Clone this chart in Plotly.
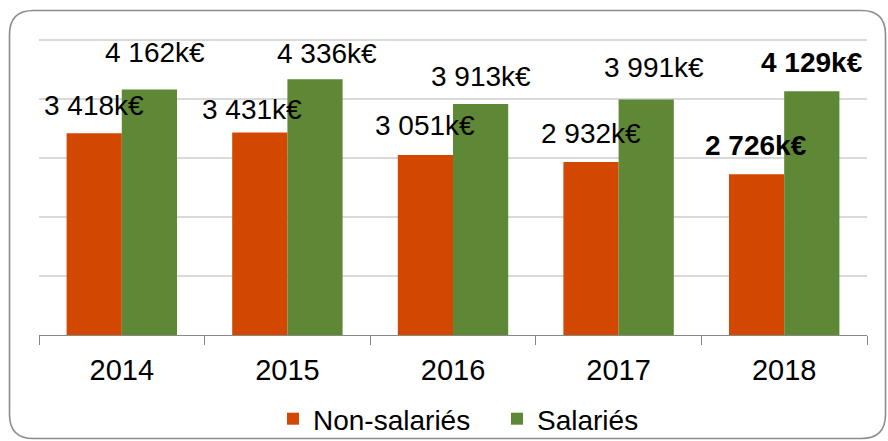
import plotly.graph_objects as go

# Data
years = ["2014", "2015", "2016", "2017", "2018"]
non_salaries = [3418, 3431, 3051, 2932, 2726]
salaries = [4162, 4336, 3913, 3991, 4129]

ORANGE = "#D24800"
GREEN = "#5E8736"
FONT = "Arial, Liberation Sans, sans-serif"

# figure geometry (px) used to place the hand-moved labels and the frame
W, H = 888, 441
YMAX = 5050
ML, MR, MB = 39, 21, 106
MT = round(H - MB - 59 * YMAX / 1000)
half_bar = 27.6

# hand-tuned label offsets (px) relative to top centre of each bar
dx_non = [0, -8, 0, 0, -1]
dy_non = [28, 23, 29, 28, 29]
dx_sal = [6, 12, 0, 8, 0]
dy_sal = [37, 26, 28, 32, 29]


def fmt(v):
  return f"{v:,}".replace(",", " ") + "k€"


fig = go.Figure()

fig.add_trace(
    go.Bar(x=years, y=non_salaries, name="Non-salariés",
           marker=dict(color=ORANGE, line=dict(width=0))))
fig.add_trace(
    go.Bar(x=years, y=salaries, name="Salariés",
           marker=dict(color=GREEN, line=dict(width=0))))

# Value labels (category axis -> annotation x is the category index)
for i, yr in enumerate(years):
  last = i == len(years) - 1
  for val, sign, dx, dy in ((non_salaries[i], -1, dx_non[i], dy_non[i]),
                            (salaries[i], 1, dx_sal[i], dy_sal[i])):
    txt = fmt(val)
    if last:
      txt = f"<b>{txt}</b>"
    fig.add_annotation(x=i, y=val, text=txt, showarrow=False,
                       xanchor="center", yanchor="middle",
                       xshift=sign * half_bar + dx, yshift=dy,
                       font=dict(family=FONT, size=28, color="#000000"))

# Rounded frame around the chart, in paper coordinates
pw, ph = W - ML - MR, H - MT - MB


def px(x):
  return (x - ML) / pw


def py(y):
  return (H - MB - y) / ph


x0, x1, y0, y1, r = 9.5, 885.5, 10.5, 438.5, 24
path = (f"M{px(x0 + r)},{py(y0)} L{px(x1 - r)},{py(y0)} "
        f"Q{px(x1)},{py(y0)} {px(x1)},{py(y0 + r)} "
        f"L{px(x1)},{py(y1 - r)} Q{px(x1)},{py(y1)} {px(x1 - r)},{py(y1)} "
        f"L{px(x0 + r)},{py(y1)} Q{px(x0)},{py(y1)} {px(x0)},{py(y1 - r)} "
        f"L{px(x0)},{py(y0 + r)} Q{px(x0)},{py(y0)} {px(x0 + r)},{py(y0)} Z")
fig.add_shape(type="path", xref="paper", yref="paper", path=path,
              line=dict(color="#8C8C8C", width=1.6), layer="below")

fig.update_layout(
    width=W, height=H,
    margin=dict(l=ML, r=MR, t=MT, b=MB, autoexpand=False),
    paper_bgcolor="white", plot_bgcolor="white",
    barmode="group", bargap=0.3333, bargroupgap=0,
    font=dict(family=FONT, color="#000000"),
    showlegend=True,
    legend=dict(orientation="h", x=px(273), xanchor="left",
                y=py(419), yanchor="middle",
                font=dict(family=FONT, size=28, color="#000000"),
                entrywidth=179, entrywidthmode="pixels",
                bgcolor="rgba(0,0,0,0)"),
)

fig.update_xaxes(
    type="category", tickangle=0, automargin=False,
    showline=True, linecolor="#888888", linewidth=1.3,
    ticks="outside", tickson="boundaries", ticklen=9,
    tickcolor="#888888", tickwidth=1.3, ticklabelstandoff=9,
    tickfont=dict(family=FONT, size=29, color="#000000"),
    showgrid=False)

fig.update_yaxes(
    range=[0, YMAX], dtick=1000, showticklabels=False, automargin=False,
    showgrid=True, gridcolor="#D9D9D9", gridwidth=1.5,
    zeroline=False, showline=False)

fig.write_html("out.html", config={"displayModeBar": False},
               post_script="document.body.style.margin='0';")
